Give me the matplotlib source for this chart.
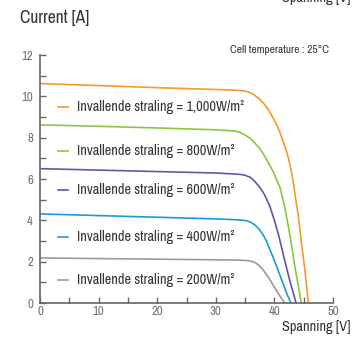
import matplotlib
matplotlib.use("Agg")
import matplotlib.pyplot as plt
from matplotlib import font_manager

# ---- data ----
labels = ["Invallende straling = 1,000W/m²", "Invallende straling = 800W/m²",
          "Invallende straling = 600W/m²", "Invallende straling = 400W/m²",
          "Invallende straling = 200W/m²"]
colors = ["#F39A2B", "#8CC63F", "#6A52A8", "#1B9AD8", "#9A9A9A"]

v1000 = [0, 10, 20, 30, 33.3, 34.6, 35.5, 36.4, 37.3, 38.2, 39.0, 39.8, 40.4, 41.0, 41.5,
         42.0, 42.4, 42.8, 43.2, 43.6, 44.1, 44.6, 45.2, 45.8]
i1000 = [10.62, 10.52, 10.42, 10.33, 10.30, 10.27, 10.22, 10.10, 9.90, 9.65, 9.34, 8.95, 8.61,
         8.22, 7.80, 7.40, 7.00, 6.50, 5.90, 5.10, 4.18, 2.95, 1.60, 0.0]

v800 = [0, 10, 20, 30, 33.3, 34.2, 35.0, 35.9, 36.7, 37.6, 38.4, 39.1, 39.8, 40.4, 41.0,
        41.8, 42.7, 43.5, 44.6]
i800 = [8.62, 8.55, 8.47, 8.38, 8.32, 8.25, 8.13, 7.96, 7.73, 7.44, 7.08, 6.72, 6.35, 5.95,
        5.55, 4.60, 3.20, 1.75, 0.0]

v600 = [0, 10, 20, 30, 33.3, 34.3, 35.0, 35.9, 36.7, 37.5, 38.3, 39.2, 40.0, 40.8, 41.6,
        42.6, 43.7]
i600 = [6.50, 6.43, 6.36, 6.29, 6.24, 6.22, 6.18, 6.08, 5.87, 5.60, 5.25, 4.70, 4.00, 3.20,
        2.24, 1.11, 0.0]

v400 = [0, 10, 20, 30, 33.3, 34.4, 35.3, 36.0, 36.7, 37.4, 38.1, 38.7, 39.2, 39.8, 40.4,
        41.0, 41.6, 42.2, 42.8]
i400 = [4.31, 4.23, 4.15, 4.07, 4.03, 4.01, 3.98, 3.90, 3.77, 3.57, 3.29, 2.96, 2.60, 2.20,
        1.76, 1.30, 0.85, 0.40, 0.0]

v200 = [0, 10, 20, 30, 33.3, 35.0, 35.8, 36.6, 37.3, 38.0, 38.7, 39.3, 39.8, 40.4, 41.0, 41.8]
i200 = [2.18, 2.15, 2.12, 2.09, 2.08, 2.06, 2.04, 1.97, 1.84, 1.63, 1.36, 1.10, 0.86, 0.58,
        0.31, 0.0]

volts = [v1000, v800, v600, v400, v200]
amps = [i1000, i800, i600, i400, i200]

xticks = [0, 10, 20, 30, 40, 50]
yticks = [0, 2, 4, 6, 8, 10, 12]

# ---- fonts: prefer a narrow sans if one is installed ----
names = sorted({f.name for f in font_manager.fontManager.ttflist})
narrow = [n for n in names if ("Narrow" in n or "Condensed" in n)]
if narrow:
    fam = narrow[0]
    k = 1.15
else:
    fam = "Liberation Sans"
    k = 1.0
plt.rcParams["font.family"] = [fam, "DejaVu Sans"]

fig = plt.figure(figsize=(3.55, 3.38), dpi=100)
ax = fig.add_axes([40/355, 1-303/338, (333-40)/355, (303-55)/338])

for v, i, c in zip(volts, amps, colors):
    ax.plot(v, i, color=c, lw=1.2, solid_capstyle="round", solid_joinstyle="round")

ax.set_xlim(0, 50)
ax.set_ylim(0, 12)
ax.set_xticks(xticks)
ax.set_yticks(yticks)
ax.set_xticks(range(0, 51, 5), minor=True)
ax.set_yticks(range(0, 13, 1), minor=True)
gray = "#666666"
ax.tick_params(which="both", direction="in", colors=gray, labelcolor="#707070",
               labelsize=8 * k, width=1)
ax.tick_params(which="both", length=4)
ax.tick_params(axis="x", pad=2)
ax.tick_params(axis="y", pad=5)
for s in ["top", "right"]:
    ax.spines[s].set_visible(False)
for s in ["left", "bottom"]:
    ax.spines[s].set_color(gray)
    ax.spines[s].set_linewidth(1.2)

# legend-like labels inside the plot
label_y = [9.5, 7.35, 5.45, 3.2, 1.12]
for lab, c, ly in zip(labels, colors, label_y):
    ax.plot([3.0, 4.8], [ly, ly], color=c, lw=1.2)
    ax.text(6.3, ly, lab, color="#333333", fontsize=8.95 * k, va="center", ha="left")

fig.text(20/355, 1-18/338, "Current [A]", fontsize=11 * k, color="#333333",
         va="center", ha="left")
fig.text(329/355, 1-50/338, "Cell temperature : 25°C", fontsize=7.1 * k, color="#333333",
         va="center", ha="right")
fig.text(350/355, 1-327/338, "Spanning [V]", fontsize=9 * k, color="#333333",
         va="center", ha="right")
fig.text(350/355, 1+2/338, "Spanning [V]", fontsize=9 * k, color="#333333",
         va="center", ha="right")

fig.savefig("out.png", dpi=100)
